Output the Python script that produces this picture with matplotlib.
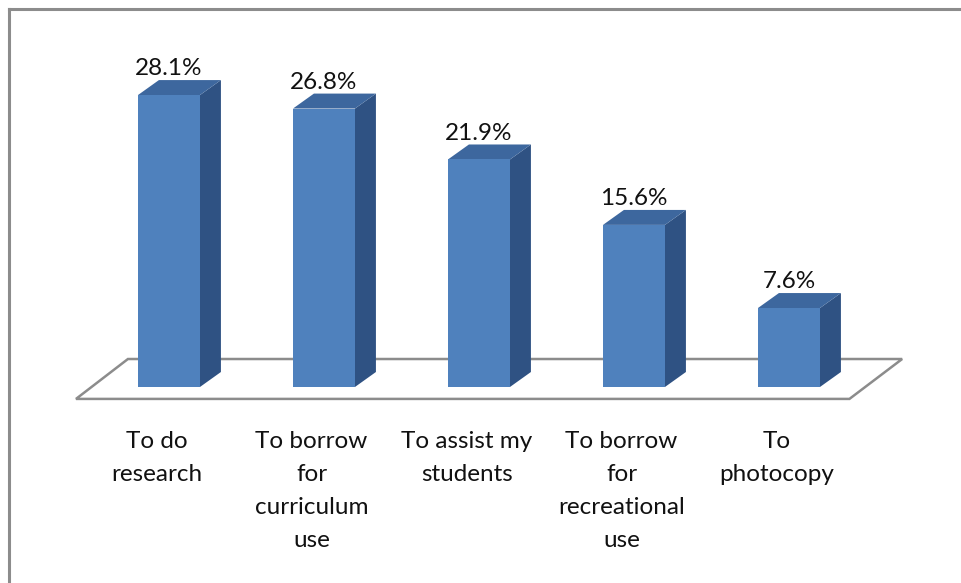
import numpy as np
import matplotlib
matplotlib.use("Agg")
import matplotlib.pyplot as plt
from matplotlib.patches import Polygon

categories = ["To do\nresearch", "To borrow\nfor\ncurriculum\nuse", "To assist my\nstudents",
              "To borrow\nfor\nrecreational\nuse", "To\nphotocopy"]
values = [28.1, 26.8, 21.9, 15.6, 7.6]
labels = ["28.1%", "26.8%", "21.9%", "15.6%", "7.6%"]

plt.rcParams['font.family'] = ['Lato', 'DejaVu Sans']

W, H = 961, 583
fig = plt.figure(figsize=(W / 100, H / 100), dpi=100)
fig.patch.set_facecolor("white")

# frame (only top and left edges show in the crop)
fig.add_artist(plt.Line2D([9 / W, 9 / W], [0, 1 - 9 / H], color="#8c8c8c", lw=2.2))
fig.add_artist(plt.Line2D([9 / W, 1], [1 - 9 / H, 1 - 9 / H], color="#8c8c8c", lw=2.2))

ax = fig.add_axes([91.5 / W, (H - 420) / H, 775 / W, 390 / H])
ax.set_xlim(-0.5, 4.5)
ax.set_ylim(-3.18, 34.36)
ax.axis("off")

bw = 0.4      # front face width
dx = 0.135    # depth offset in x
dy = 1.44     # depth offset in y

# floor
floor = Polygon([(-0.60, -1.15), (4.39, -1.15), (4.73, 2.69), (-0.265, 2.69)],
                closed=True, facecolor="white", edgecolor="#8c8c8c", lw=1.8,
                clip_on=False, zorder=1)
ax.add_patch(floor)

front_c = "#4F81BD"
top_c = "#3D679E"
side_c = "#2F5283"

x = np.arange(len(values))
for xi, v in zip(x, values):
    l, r = xi - bw / 2, xi + bw / 2
    ax.add_patch(Polygon([(r, 0), (r + dx, dy), (r + dx, v + dy), (r, v)],
                         facecolor=side_c, edgecolor="none", zorder=3, clip_on=False))
    ax.add_patch(Polygon([(l, v), (r, v), (r + dx, v + dy), (l + dx, v + dy)],
                         facecolor=top_c, edgecolor="none", zorder=3, clip_on=False))
    ax.bar(xi, v, width=bw, color=front_c, zorder=4)

for xi, v, lab in zip(x, values, labels):
    ax.annotate(lab, (xi, v + dy), xytext=(0, 0.5), textcoords="offset points",
                ha="center", va="bottom", fontsize=17.5, color="#111111")

for xi, cat in zip(x, categories):
    ax.text(xi - 0.08, -4.2, cat, ha="center", va="top", fontsize=17.5,
            color="#111111", linespacing=1.72)

fig.savefig("out.png", dpi=100)
